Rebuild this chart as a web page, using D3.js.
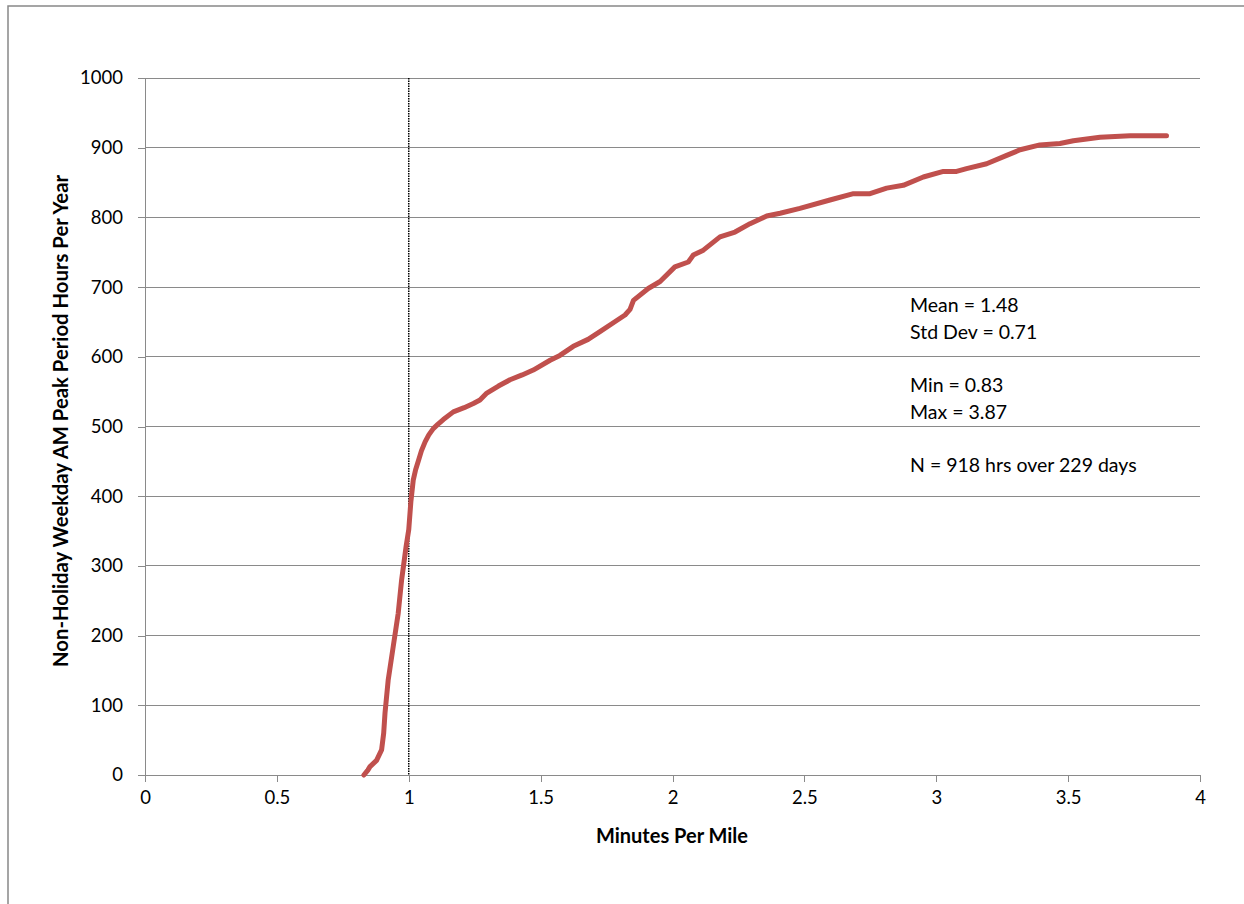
<!DOCTYPE html>
<html><head><meta charset="utf-8">
<script src="https://cdn.jsdelivr.net/npm/d3@7"></script>
<style>body{margin:0;background:#fff}svg{display:block}text{font-family:Lato,"Open Sans",sans-serif;fill:#000}</style>
</head><body><svg id="c" width="1244" height="904"></svg>
<script>
const minutes = [0.83,0.845,0.853,0.878,0.897,0.905,0.91,0.922,0.941,0.96,0.973,0.99,1.0,1.008,1.017,1.026,1.036,1.048,1.062,1.076,1.093,1.11,1.131,1.169,1.21,1.245,1.27,1.296,1.34,1.384,1.43,1.472,1.536,1.573,1.624,1.68,1.725,1.78,1.82,1.839,1.852,1.908,1.953,2.009,2.06,2.079,2.117,2.18,2.237,2.294,2.357,2.408,2.483,2.597,2.686,2.749,2.812,2.875,2.951,3.027,3.077,3.115,3.191,3.267,3.318,3.393,3.469,3.52,3.621,3.735,3.873];
const hours = [0,7,12,21,36,60,89,136,184,232,280,328,352,392,423,438,450,465,478,488,497,503,510,521,527,533,538,548,558,567,574,581,595,602,615,625,636,650,660,668,681,698,708,729,736,746,753,772,779,791,802,806,813,825,834,834,842,846,858,866,866,870,877,889,897,904,906,910,915,917,917];
const xTicks = [0,0.5,1,1.5,2,2.5,3,3.5,4];
const yTicks = [0,100,200,300,400,500,600,700,800,900,1000];
const refLine = 1;
const stats = ["Mean = 1.48","Std Dev = 0.71","","Min = 0.83","Max = 3.87","","N = 918 hrs over 229 days"];
const xTitle = "Minutes Per Mile";
const yTitle = "Non-Holiday Weekday AM Peak Period Hours Per Year";

const svg = d3.select("#c");
svg.append("rect").attr("x",8).attr("y",6).attr("width",1250).attr("height",910)
  .attr("fill","none").attr("stroke","#888").attr("stroke-width",1.5);

const x = d3.scaleLinear().domain([0,4]).range([145,1200]);
const y = d3.scaleLinear().domain([0,1000]).range([775,78]);
const gridC = "#8a8a8a";

svg.append("g").selectAll("line").data(yTicks).join("line")
  .attr("x1",x(0)).attr("x2",x(4)).attr("y1",d=>y(d)).attr("y2",d=>y(d))
  .attr("stroke",gridC).attr("stroke-width",1).attr("shape-rendering","crispEdges");

const ya = svg.append("g").attr("transform",`translate(${x(0)},0)`)
  .call(d3.axisLeft(y).tickValues(yTicks).tickSize(7).tickPadding(15).tickFormat(d3.format("d")));
ya.select(".domain").attr("stroke",gridC).attr("shape-rendering","crispEdges");
ya.selectAll(".tick line").attr("stroke",gridC).attr("shape-rendering","crispEdges");
ya.selectAll(".tick text").attr("font-size",18.5).attr("font-family","Lato");

const xa = svg.append("g").attr("transform",`translate(0,${y(0)})`)
  .call(d3.axisBottom(x).tickValues(xTicks).tickSize(7).tickPadding(9).tickFormat(d=>String(d)));
xa.select(".domain").attr("stroke",gridC).attr("shape-rendering","crispEdges");
xa.selectAll(".tick line").attr("stroke",gridC).attr("shape-rendering","crispEdges");
xa.selectAll(".tick text").attr("font-size",18.5).attr("font-family","Lato");

svg.append("line").attr("x1",x(refLine)).attr("x2",x(refLine)).attr("y1",y(1000)).attr("y2",y(0))
  .attr("stroke","#000").attr("stroke-width",1.5).attr("stroke-dasharray","1.5,1");

const pts = minutes.map((m,i)=>[m,hours[i]]);
svg.append("path").datum(pts)
  .attr("d",d3.line().x(d=>x(d[0])).y(d=>y(d[1])))
  .attr("fill","none").attr("stroke","#c0504d").attr("stroke-width",5)
  .attr("stroke-linejoin","round").attr("stroke-linecap","round");

const st = svg.append("text").attr("x",910).attr("y",312).attr("font-size",19.5);
stats.forEach((s,i)=>{
  st.append("tspan").attr("x",910).attr("y",312+i*26.7).text(s);
});

svg.append("text").attr("x",672).attr("y",843).attr("text-anchor","middle")
  .attr("font-size",20).attr("font-weight","bold").text(xTitle);
svg.append("text").attr("transform",`translate(68,${421}) rotate(-90)`).attr("text-anchor","middle")
  .attr("font-size",20.3).attr("font-weight","bold").text(yTitle);
</script></body></html>
